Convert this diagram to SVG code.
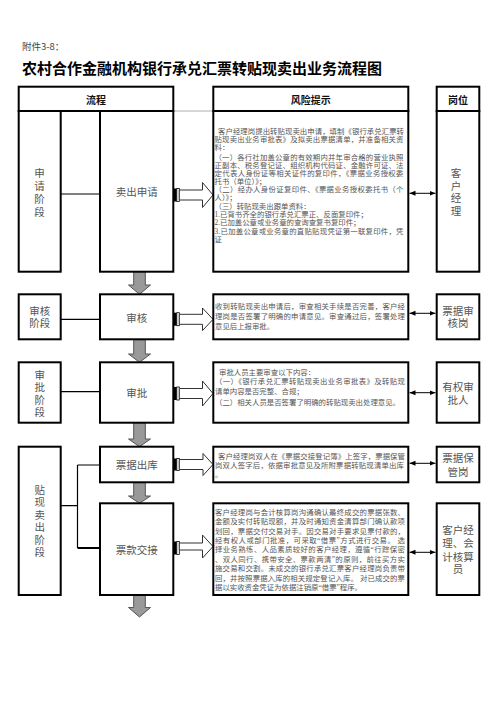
<svg xmlns="http://www.w3.org/2000/svg" width="496" height="702" viewBox="0 0 496 702">
<style>
text{font-family:"Noto Sans CJK SC","Noto Sans",sans-serif;dominant-baseline:central}
.box{fill:#fff;stroke:#000;stroke-width:2}
.risk{font-family:"Liberation Serif","Noto Sans CJK SC",serif;font-size:7.4px;fill:#555}
.lbl{font-family:"Liberation Sans","Noto Sans CJK SC",sans-serif;font-size:10.5px;fill:#555;text-anchor:middle}
.hdr{font-size:10px;font-weight:bold;fill:#111;text-anchor:middle}
.link{stroke:#000;stroke-width:1.2;fill:none}
.down{fill:#999;stroke:#555;stroke-width:1}
.hollow{fill:#fff;stroke:#333;stroke-width:1}
.dbl{stroke:#000;stroke-width:1;marker-start:url(#ah);marker-end:url(#ah)}
</style>
<defs>
<marker id="ah" viewBox="0 0 6 6" refX="6" refY="3" markerWidth="6" markerHeight="6" markerUnits="userSpaceOnUse" orient="auto-start-reverse"><path d="M0,0.5 L6,3 L0,5.5 z" fill="#000"/></marker>
</defs>
<rect width="496" height="702" fill="#fff"/>
<text x="22" y="46" style="font-size:9.5px;fill:#444">附件3-8：</text>
<text x="22" y="67.5" style="font-size:15px;font-weight:bold;fill:#000">农村合作金融机构银行承兑汇票转贴现卖出业务流程图</text>

<g id="headers">
<rect class="box" x="18.7" y="86.7" width="154.6" height="24.3"/>
<text class="hdr" x="96" y="99.5">流程</text>
<rect class="box" x="213.3" y="86.7" width="195" height="24.3"/>
<text class="hdr" x="310.8" y="99.5">风险提示</text>
<rect class="box" x="436.7" y="86.7" width="42.6" height="24.3"/>
<text class="hdr" x="458" y="99.5">岗位</text>
<line x1="173.3" y1="111" x2="213.3" y2="111" stroke="#999" stroke-width="0.8"/>
</g>

<g id="connectors">
<line class="link" x1="60.7" y1="194" x2="100" y2="194"/>
<line class="link" x1="60.7" y1="319.3" x2="100" y2="319.3"/>
<line class="link" x1="60.7" y1="391.7" x2="100" y2="391.7"/>
<path class="link" d="M60.7,505.7 H77.5 M77.5,465 V548 M77.5,465 H100"/>
<line x1="77.5" y1="548" x2="100" y2="548" stroke="#000" stroke-width="2"/>
<path class="down" d="M133.7,271.7 H145.3 V285 H150.5 L139.5,294.3 L128.5,285 H133.7 Z"/>
<path class="down" d="M133.7,339.3 H145.3 V354 H150.5 L139.5,362.3 L128.5,354 H133.7 Z"/>
<path class="down" d="M133.7,422.7 H145.3 V439 H150.5 L139.5,446.7 L128.5,439 H133.7 Z"/>
<path class="down" d="M133.7,482.3 H145.3 V496 H150.5 L139.5,503.3 L128.5,496 H133.7 Z"/>
<path class="down" d="M133.7,595 H145.3 V607.5 H150.5 L139.5,617 L128.5,607.5 H133.7 Z"/>
<g id="r1">
<rect x="173.3" y="188.5" width="3.5" height="13" fill="#000"/><rect x="176.8" y="188.5" width="2.5" height="13" fill="#fff" stroke="#000" stroke-width="0.8"/>
<path class="hollow" d="M179.3,190 H202.5 V182.5 L213,195 L202.5,207.5 V200 H179.3 Z"/>
</g>
<g id="r2">
<rect x="173.3" y="312.7" width="3.5" height="13" fill="#000"/><rect x="176.8" y="312.7" width="2.5" height="13" fill="#fff" stroke="#000" stroke-width="0.8"/>
<path class="hollow" d="M179.3,314.3 H202.5 V308 L213,319.3 L202.5,330.6 V324.3 H179.3 Z"/>
</g>
<g id="r3">
<rect x="173.3" y="387" width="3.5" height="13" fill="#000"/><rect x="176.8" y="387" width="2.5" height="13" fill="#fff" stroke="#000" stroke-width="0.8"/>
<path class="hollow" d="M179.3,388.5 H202.5 V381 L213,393.5 L202.5,406 V398.5 H179.3 Z"/>
</g>
<g id="r4">
<rect x="173.3" y="458.5" width="3.5" height="12" fill="#000"/><rect x="176.8" y="458.5" width="2.5" height="12" fill="#fff" stroke="#000" stroke-width="0.8"/>
<path class="hollow" d="M179.3,459.5 H203 V453.5 L213,464.5 L203,475.5 V469.5 H179.3 Z"/>
</g>
<g id="r5">
<rect x="173.3" y="541.5" width="3.5" height="13" fill="#000"/><rect x="176.8" y="541.5" width="2.5" height="13" fill="#fff" stroke="#000" stroke-width="0.8"/>
<path class="hollow" d="M179.3,543 H202.5 V535 L213,546.5 L202.5,558 V550 H179.3 Z"/>
</g>
<line class="dbl" x1="409.5" y1="193.3" x2="435.5" y2="193.3"/>
<line class="dbl" x1="409.5" y1="313.3" x2="435.5" y2="313.3"/>
<line class="dbl" x1="409.5" y1="392.7" x2="435.5" y2="392.7"/>
<line class="dbl" x1="409.5" y1="463.3" x2="435.5" y2="463.3"/>
<line class="dbl" x1="409.5" y1="552.3" x2="435.5" y2="552.3"/>
</g>

<g id="stage-apply">
<rect class="box" x="18.7" y="111" width="42" height="160.7"/>
<text class="lbl"><tspan x="39.5" y="173">申</tspan><tspan x="39.5" y="185.5">请</tspan><tspan x="39.5" y="198.5">阶</tspan><tspan x="39.5" y="211.5">段</tspan></text>
</g>
<g id="proc-apply">
<rect class="box" x="100" y="111" width="73.3" height="160.7"/>
<text class="lbl" x="136.7" y="192">卖出申请</text>
</g>
<g id="risk-apply">
<rect class="box" x="213.3" y="111" width="195" height="160.7"/>
<text class="risk" x="218" y="131" textLength="186" lengthAdjust="spacing">客户经理岗提出转贴现卖出申请，填制《银行承兑汇票转</text>
<text class="risk" x="214.5" y="139" textLength="189" lengthAdjust="spacing">贴现卖出业务审批表》及拟卖出票据清单，并准备相关资</text>
<text class="risk" x="214.5" y="147">料：</text>
<text class="risk" x="214.5" y="157.7" textLength="189" lengthAdjust="spacing">（一）各行社加盖公章的有效期内并年审合格的营业执照</text>
<text class="risk" x="214.5" y="165.7" textLength="189" lengthAdjust="spacing">正副本、税务登记证、组织机构代码证、金融许可证、法</text>
<text class="risk" x="214.5" y="173.7" textLength="189" lengthAdjust="spacing">定代表人身份证等相关证件的复印件，《票据业务授权委</text>
<text class="risk" x="214.5" y="181.7">托书（单位）》；</text>
<text class="risk" x="214.5" y="189.5" textLength="189" lengthAdjust="spacing">（二）经办人身份证复印件、《票据业务授权委托书（个</text>
<text class="risk" x="214.5" y="197.5">人）》；</text>
<text class="risk" x="214.5" y="206">（三）转贴现卖出跟单资料：</text>
<text class="risk" x="214.5" y="214.3">1.已背书齐全的银行承兑汇票正、反面复印件；</text>
<text class="risk" x="214.5" y="222.7">2.已加盖公章或业务章的查询查复书复印件；</text>
<text class="risk" x="214.5" y="231" textLength="189" lengthAdjust="spacing">3.已加盖公章或业务章的直贴贴现凭证第一联复印件，凭</text>
<text class="risk" x="214.5" y="239">证</text>
</g>
<g id="post-apply">
<rect class="box" x="436.7" y="111" width="42.6" height="160.7"/>
<text class="lbl"><tspan x="456" y="173">客</tspan><tspan x="456" y="185.7">户</tspan><tspan x="456" y="198.3">经</tspan><tspan x="456" y="211">理</tspan></text>
</g>

<g id="stage-review">
<rect class="box" x="18.7" y="294.3" width="42" height="45"/>
<text class="lbl"><tspan x="39.7" y="310.7">审核</tspan><tspan x="39.7" y="323.3">阶段</tspan></text>
</g>
<g id="proc-review">
<rect class="box" x="100" y="294.3" width="73.3" height="45"/>
<text class="lbl" x="136.7" y="317.7">审核</text>
</g>
<g id="risk-review">
<rect class="box" x="213.3" y="294.3" width="195" height="45"/>
<text class="risk" x="215" y="306" textLength="190" lengthAdjust="spacing">收到转贴现卖出申请后，审查相关手续是否完善，客户经</text>
<text class="risk" x="215" y="316" textLength="190" lengthAdjust="spacing">理岗是否签署了明确的申请意见。审查通过后，签署处理</text>
<text class="risk" x="215" y="326.5">意见后上报审批。</text>
</g>
<g id="post-review">
<rect class="box" x="436.7" y="294.3" width="42.6" height="45"/>
<text class="lbl"><tspan x="458" y="310.7">票据审</tspan><tspan x="458" y="323.3">核岗</tspan></text>
</g>

<g id="stage-approve">
<rect class="box" x="18.7" y="362.3" width="42" height="60.4"/>
<text class="lbl"><tspan x="39.7" y="375">审</tspan><tspan x="39.7" y="387.3">批</tspan><tspan x="39.7" y="399.6">阶</tspan><tspan x="39.7" y="412">段</tspan></text>
</g>
<g id="proc-approve">
<rect class="box" x="100" y="362.3" width="73.3" height="60.4"/>
<text class="lbl" x="136.7" y="393">审批</text>
</g>
<g id="risk-approve">
<rect class="box" x="213.3" y="362.3" width="195" height="60.4"/>
<text class="risk" x="219" y="372">审批人员主要审查以下内容：</text>
<text class="risk" x="215" y="381.7" textLength="190" lengthAdjust="spacing">（一）《银行承兑汇票转贴现卖出业务审批表》及转贴现</text>
<text class="risk" x="215" y="391.7">请单内容是否完整、合规；</text>
<text class="risk" x="215" y="402.3" textLength="185" lengthAdjust="spacing">（二）相关人员是否签署了明确的转贴现卖出处理意见。</text>
</g>
<g id="post-approve">
<rect class="box" x="436.7" y="362.3" width="42.6" height="60.4"/>
<text class="lbl"><tspan x="458" y="387.3">有权审</tspan><tspan x="458" y="399.8">批人</tspan></text>
</g>

<g id="stage-sell">
<rect class="box" x="18.7" y="446.7" width="42" height="148.3"/>
<text class="lbl"><tspan x="39.7" y="490">贴</tspan><tspan x="39.7" y="502.4">现</tspan><tspan x="39.7" y="514.8">卖</tspan><tspan x="39.7" y="527.2">出</tspan><tspan x="39.7" y="539.6">阶</tspan><tspan x="39.7" y="552">段</tspan></text>
</g>
<g id="proc-out">
<rect class="box" x="100" y="446.7" width="73.3" height="35.6"/>
<text class="lbl" x="136.7" y="465">票据出库</text>
</g>
<g id="risk-out">
<rect class="box" x="213.3" y="446.7" width="195" height="35.6"/>
<text class="risk" x="218" y="456" textLength="187" lengthAdjust="spacing">客户经理岗双人在《票据交接登记簿》上签字，票据保管</text>
<text class="risk" x="215" y="465.3" textLength="189" lengthAdjust="spacing">岗双人签字后，依据审批意见及所附票据转贴现清单出库</text>
<text class="risk" x="215" y="474.5">。</text>
</g>
<g id="post-out">
<rect class="box" x="436.7" y="446.7" width="42.6" height="35.6"/>
<text class="lbl"><tspan x="458" y="458.3">票据保</tspan><tspan x="458" y="471.7">管岗</tspan></text>
</g>
<g id="proc-deliver">
<rect class="box" x="100" y="503.3" width="73.3" height="91.7"/>
<text class="lbl" x="136.7" y="550">票款交接</text>
</g>
<g id="risk-deliver">
<rect class="box" x="213.3" y="503.3" width="195" height="91.7"/>
<text class="risk" x="215" y="512.3" textLength="190" lengthAdjust="spacing">客户经理岗与会计核算岗沟通确认最终成交的票据张数、</text>
<text class="risk" x="215" y="521.7" textLength="190" lengthAdjust="spacing">金额及实付转贴现额，并及时通知资金清算部门确认款项</text>
<text class="risk" x="215" y="531.1" textLength="190" lengthAdjust="spacing">划回，票据交付交易对手。因交易对手要求见票付款的，</text>
<text class="risk" x="215" y="540.5" textLength="190" lengthAdjust="spacing">经有权人或部门批准，可采取“借票”方式进行交易。 选</text>
<text class="risk" x="215" y="549.9" textLength="190" lengthAdjust="spacing">择业务熟练、人品素质较好的客户经理，遵循“行踪保密</text>
<text class="risk" x="215" y="559.3" textLength="190" lengthAdjust="spacing">、双人同行、携带安全、票款两清”的原则，前往买方实</text>
<text class="risk" x="215" y="568.7" textLength="190" lengthAdjust="spacing">施交易和交割。未成交的银行承兑汇票客户经理岗负责带</text>
<text class="risk" x="215" y="578.1" textLength="190" lengthAdjust="spacing">回，并按照票据入库的相关规定登记入库。 对已成交的票</text>
<text class="risk" x="215" y="587.5">据以实收资金凭证为依据注销原“借票”程序。</text>
</g>
<g id="post-deliver">
<rect class="box" x="436.7" y="503.3" width="42.6" height="91.7"/>
<text class="lbl"><tspan x="458" y="530">客户经</tspan><tspan x="458" y="543.3">理、会</tspan><tspan x="458" y="556.7">计核算</tspan><tspan x="458" y="569">员</tspan></text>
</g>
</svg>
